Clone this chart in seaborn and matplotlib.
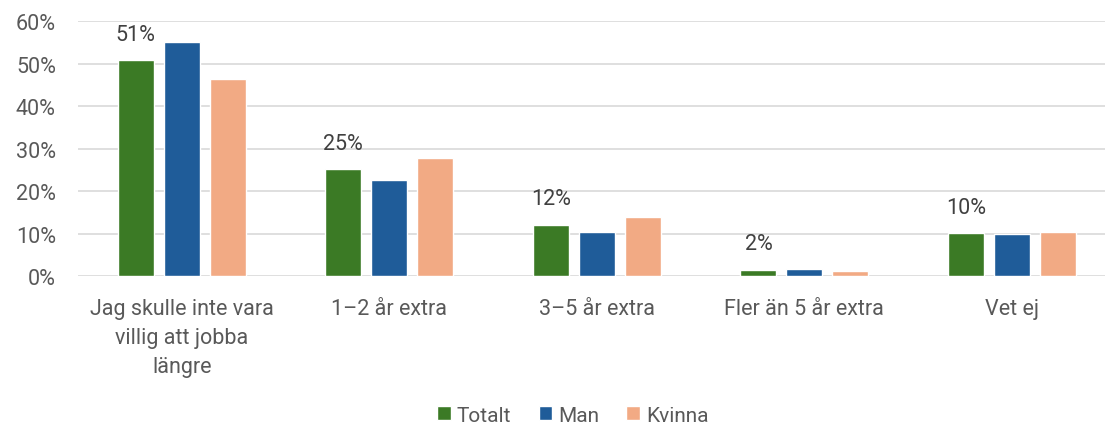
import matplotlib
matplotlib.use("Agg")
import matplotlib.pyplot as plt
import seaborn as sns
import pandas as pd
from matplotlib.ticker import FuncFormatter

categories = ["Jag skulle inte vara\nvillig att jobba\nlängre", "1–2 år extra", "3–5 år extra",
              "Fler än 5 år extra", "Vet ej"]
series_names = ["Totalt", "Man", "Kvinna"]
totalt = [50.8, 25.2, 12.1, 1.5, 10.2]
man = [55.1, 22.6, 10.4, 1.6, 10.0]
kvinna = [46.3, 27.8, 13.9, 1.3, 10.5]
colors = ["#3B7A25", "#1F5C99", "#F2AA84"]

rows = []
for name, vals in zip(series_names, [totalt, man, kvinna]):
    for c, v in zip(categories, vals):
        rows.append({"cat": c, "series": name, "value": v})
df = pd.DataFrame(rows)

sns.set_theme(style="white")
plt.rcParams["font.family"] = ["Roboto", "DejaVu Sans"]
text_color = "#595959"
fs = 15.5

fig = plt.figure(figsize=(11.05, 4.27), dpi=100)
ax = fig.add_axes([0.0706, 0.351, 0.939, 0.597])
sns.barplot(data=df, x="cat", y="value", hue="series", palette=colors,
            width=0.664, gap=0.217, ax=ax, saturation=1, legend=True)

ax.set_ylim(0, 60)
ax.set_xlim(-0.5, 4.5)
ax.set_yticks(range(0, 61, 10))
ax.yaxis.set_major_formatter(FuncFormatter(lambda v, p: f"{int(v)}%"))
ax.grid(axis="y", color="#D9D9D9", linewidth=1.2)
ax.set_axisbelow(True)
for s in ax.spines.values():
    s.set_visible(False)
ax.set_xlabel("")
ax.set_ylabel("")
ax.tick_params(axis="both", length=0, labelsize=fs, colors=text_color)
ax.tick_params(axis="x", pad=16)
ax.tick_params(axis="y", pad=16)
for lbl in ax.get_xticklabels():
    lbl.set_verticalalignment("top")
    lbl.set_linespacing(1.5)

# data labels on Totalt bars
cont = ax.containers[0]
ax.bar_label(cont, labels=[f"{round(v)}%" for v in totalt], padding=11,
             fontsize=fs, color="#404040")

leg = ax.legend(loc="lower center", bbox_to_anchor=(0.477, -0.64), ncol=3, frameon=False,
                fontsize=15, handlelength=0.65, handleheight=0.65, handletextpad=0.3,
                columnspacing=1.3, labelcolor=text_color, borderpad=0.2)

fig.savefig("out.png", dpi=100)
